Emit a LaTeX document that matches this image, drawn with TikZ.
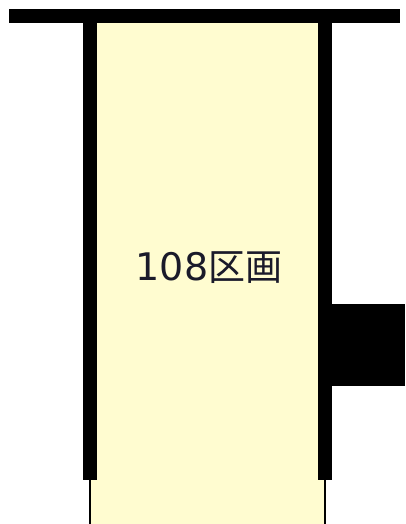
\documentclass[tikz,border=0pt]{standalone}
\usepackage{fontspec}
\setmainfont{DejaVu Sans}
\newfontfamily\cjkfont{Noto Sans CJK JP}
\definecolor{lotfill}{HTML}{FFFCD0}
\definecolor{inktext}{HTML}{1A1A2A}
\tikzset{
  wall/.style={fill=black,draw=none},
  thinline/.style={draw=black,line width=1.8pt},
  lot/.style={fill=lotfill,draw=none},
  lotlabel/.style={text=inktext,inner sep=0pt,font=\fontsize{38}{38}\selectfont}
}
\begin{document}
\begin{tikzpicture}[x=1pt,y=-1pt]
\useasboundingbox[fill=white] (0,0) rectangle (405,524);
\fill[lot] (90,20) rectangle (325,524);
\fill[wall] (9,9) rectangle (400,23);
\fill[wall] (83,23) rectangle (97,480);
\fill[wall] (318,23) rectangle (332,480);
\fill[wall] (332,304) rectangle (405,386);
\coordinate (la) at (90,480);
\coordinate (lb) at (90,524);
\coordinate (ra) at (325,480);
\coordinate (rb) at (325,524);
\draw[thinline] (la) -- (lb);
\draw[thinline] (ra) -- (rb);
\node[lotlabel,anchor=center] (lbl) at (209,268) {108{\cjkfont\fontsize{37}{37}\selectfont 区画}};
\end{tikzpicture}
\end{document}
